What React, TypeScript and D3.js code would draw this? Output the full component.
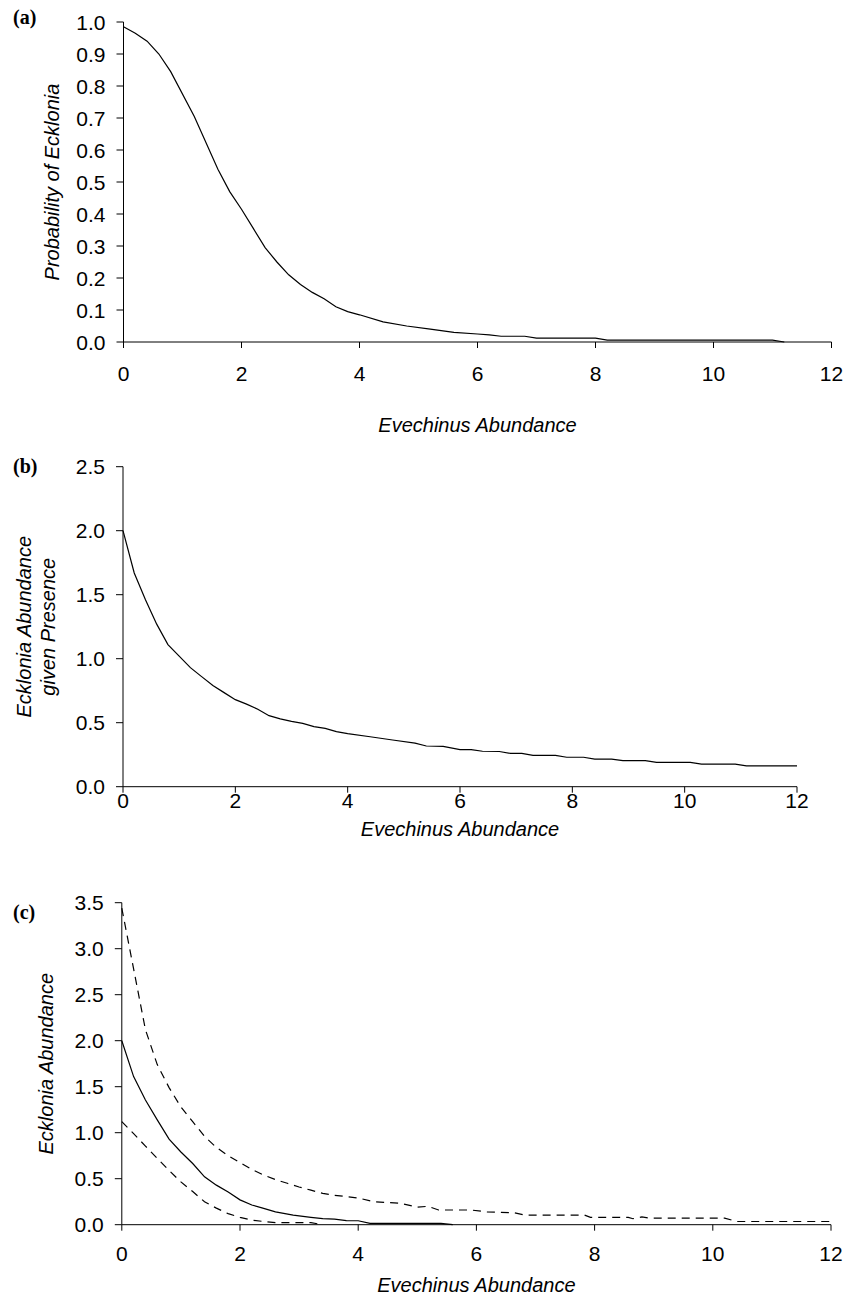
import React from "react";
import * as d3 from "d3";

// tick values
const xTicks = [0, 2, 4, 6, 8, 10, 12];
const yTicksA = [0, 0.1, 0.2, 0.3, 0.4, 0.5, 0.6, 0.7, 0.8, 0.9, 1.0];
const yTicksB = [0, 0.5, 1.0, 1.5, 2.0, 2.5];
const yTicksC = [0, 0.5, 1.0, 1.5, 2.0, 2.5, 3.0, 3.5];

// (a) probability of Ecklonia vs Evechinus abundance
const abundA = [0, 0.2, 0.4, 0.6, 0.8, 1.2, 1.6, 1.8, 2.0, 2.2, 2.4, 2.6, 2.8, 3.0, 3.2, 3.4, 3.6, 3.8, 4.0, 4.4, 4.8, 5.2, 5.6, 6.0, 6.2, 6.4, 6.8, 7.0, 8.0, 8.2, 11.0, 11.2];
const probEcklonia = [0.985, 0.965, 0.94, 0.9, 0.845, 0.705, 0.54, 0.47, 0.415, 0.355, 0.295, 0.25, 0.21, 0.18, 0.155, 0.135, 0.11, 0.095, 0.085, 0.063, 0.05, 0.04, 0.03, 0.025, 0.022, 0.018, 0.018, 0.012, 0.012, 0.006, 0.006, 0];

// (b) Ecklonia abundance given presence
const abundB = [0, 0.2, 0.4, 0.6, 0.8, 1.0, 1.2, 1.4, 1.6, 1.8, 2.0, 2.2, 2.4, 2.6, 2.8, 3.0, 3.2, 3.4, 3.6, 3.8, 4.0, 4.4, 4.8, 5.2, 5.4, 5.7, 6.0, 6.2, 6.4, 6.7, 6.9, 7.1, 7.3, 7.7, 7.9, 8.2, 8.4, 8.7, 8.9, 9.3, 9.5, 10.1, 10.3, 10.9, 11.1, 12.0];
const abundGivenPresence = [2.0, 1.67, 1.46, 1.27, 1.11, 1.02, 0.93, 0.86, 0.79, 0.735, 0.68, 0.645, 0.605, 0.555, 0.53, 0.51, 0.495, 0.47, 0.455, 0.43, 0.415, 0.39, 0.365, 0.34, 0.318, 0.315, 0.29, 0.29, 0.277, 0.275, 0.26, 0.26, 0.245, 0.245, 0.23, 0.23, 0.216, 0.216, 0.203, 0.203, 0.19, 0.19, 0.177, 0.177, 0.162, 0.162];

// (c) Ecklonia abundance, mean with lower / upper bounds
const abundMean = [0, 0.2, 0.4, 0.6, 0.8, 1.0, 1.2, 1.4, 1.6, 1.8, 2.0, 2.2, 2.4, 2.6, 2.9, 3.2, 3.4, 3.6, 3.8, 4.0, 4.2, 5.4, 5.6];
const meanAbund = [2.0, 1.61, 1.355, 1.14, 0.93, 0.79, 0.665, 0.52, 0.43, 0.355, 0.27, 0.214, 0.178, 0.14, 0.105, 0.08, 0.065, 0.06, 0.045, 0.043, 0.015, 0.015, 0];
const abundLower = [0, 0.2, 0.4, 0.6, 0.8, 1.0, 1.2, 1.4, 1.6, 1.8, 2.0, 2.2, 2.4, 2.6, 3.2, 3.4];
const lowerAbund = [1.12, 0.99, 0.855, 0.72, 0.59, 0.465, 0.36, 0.25, 0.18, 0.12, 0.08, 0.05, 0.035, 0.022, 0.022, 0];
const abundUpper = [0, 0.2, 0.4, 0.6, 0.8, 1.0, 1.2, 1.4, 1.6, 1.8, 2.0, 2.2, 2.4, 2.6, 2.8, 3.0, 3.2, 3.4, 3.6, 4.0, 4.26, 4.72, 5.0, 5.18, 5.36, 5.9, 6.18, 6.64, 6.82, 7.83, 7.93, 8.57, 8.65, 8.8, 8.93, 10.2, 10.4, 12.0];
const upperAbund = [3.44, 2.78, 2.12, 1.74, 1.49, 1.28, 1.12, 0.96, 0.84, 0.75, 0.675, 0.6, 0.54, 0.49, 0.45, 0.41, 0.375, 0.34, 0.32, 0.29, 0.25, 0.232, 0.19, 0.2, 0.16, 0.16, 0.14, 0.13, 0.105, 0.105, 0.08, 0.08, 0.065, 0.085, 0.072, 0.072, 0.035, 0.035];

const SANS = "'Liberation Sans', Arial, Helvetica, sans-serif";
const SERIF = "'Liberation Serif', 'Times New Roman', serif";

type Curve = { xs: number[]; ys: number[]; dashed?: boolean };

type PanelProps = {
  tag: string;
  tagY: number;
  xRange: [number, number];
  yRange: [number, number];
  yMax: number;
  yTicks: number[];
  curves: Curve[];
  yTitle: string[];
  yTitleX: number[];
  xLabelY: number;
  xTitleY: number;
};

function Panel(p: PanelProps) {
  const x = d3.scaleLinear().domain([0, 12]).range(p.xRange);
  const y = d3.scaleLinear().domain([0, p.yMax]).range(p.yRange);
  const fmt = d3.format(".1f");
  const [x0, x1] = p.xRange;
  const [yb, yt] = p.yRange;
  const midY = (yb + yt) / 2;

  const line = d3
    .line<[number, number]>()
    .x((d) => x(d[0]))
    .y((d) => y(d[1]));

  return (
    <g fontFamily={SANS} fontSize={20} fill="#000">
      <text x={13} y={p.tagY} fontFamily={SERIF} fontWeight="bold" fontSize={20}>
        {p.tag}
      </text>

      {/* eje Y */}
      <line x1={x0} x2={x0} y1={yt} y2={yb} stroke="#000" strokeWidth={1} />
      {p.yTicks.map((t) => (
        <g key={t}>
          <line x1={x0 - 7} x2={x0} y1={y(t)} y2={y(t)} stroke="#000" strokeWidth={1} />
          <text x={x0 - 18} y={y(t)} dy="0.36em" textAnchor="end" fontSize={21}>
            {fmt(t)}
          </text>
        </g>
      ))}

      {/* eje X */}
      <line x1={x0} x2={x1} y1={yb} y2={yb} stroke="#000" strokeWidth={1} />
      {xTicks.map((t) => (
        <g key={t}>
          <line x1={x(t)} x2={x(t)} y1={yb} y2={yb + 6} stroke="#000" strokeWidth={1} />
          <text x={x(t)} y={p.xLabelY} textAnchor="middle" fontSize={21}>
            {t}
          </text>
        </g>
      ))}

      <text x={(x0 + x1) / 2} y={p.xTitleY} textAnchor="middle" fontStyle="italic">
        Evechinus Abundance
      </text>
      {p.yTitle.map((s, i) => (
        <text
          key={s}
          transform={`translate(${p.yTitleX[i]},${midY}) rotate(-90)`}
          textAnchor="middle"
          fontStyle="italic"
        >
          {s}
        </text>
      ))}

      {p.curves.map((c, i) => (
        <path
          key={i}
          d={line(c.xs.map((v, j) => [v, c.ys[j]] as [number, number])) || ""}
          fill="none"
          stroke="#000"
          strokeWidth={1.2}
          strokeDasharray={c.dashed ? "8,6" : undefined}
        />
      ))}
    </g>
  );
}

export default function App() {
  return (
    <svg
      width={845}
      height={1299}
      style={{ position: "absolute", left: 0, top: 0, background: "#fff" }}
    >
      <Panel
        tag="(a)"
        tagY={24}
        xRange={[123.5, 831.5]}
        yRange={[342, 22]}
        yMax={1}
        yTicks={yTicksA}
        curves={[{ xs: abundA, ys: probEcklonia }]}
        yTitle={["Probability of Ecklonia"]}
        yTitleX={[59]}
        xLabelY={381}
        xTitleY={432}
      />
      <Panel
        tag="(b)"
        tagY={473}
        xRange={[123, 797]}
        yRange={[786.7, 466.7]}
        yMax={2.5}
        yTicks={yTicksB}
        curves={[{ xs: abundB, ys: abundGivenPresence }]}
        yTitle={["Ecklonia Abundance", "given Presence"]}
        yTitleX={[31, 55]}
        xLabelY={808}
        xTitleY={836}
      />
      <Panel
        tag="(c)"
        tagY={919}
        xRange={[121.8, 831]}
        yRange={[1224.7, 902.7]}
        yMax={3.5}
        yTicks={yTicksC}
        curves={[
          { xs: abundMean, ys: meanAbund },
          { xs: abundLower, ys: lowerAbund, dashed: true },
          { xs: abundUpper, ys: upperAbund, dashed: true },
        ]}
        yTitle={["Ecklonia Abundance"]}
        yTitleX={[53]}
        xLabelY={1261}
        xTitleY={1292}
      />
    </svg>
  );
}
